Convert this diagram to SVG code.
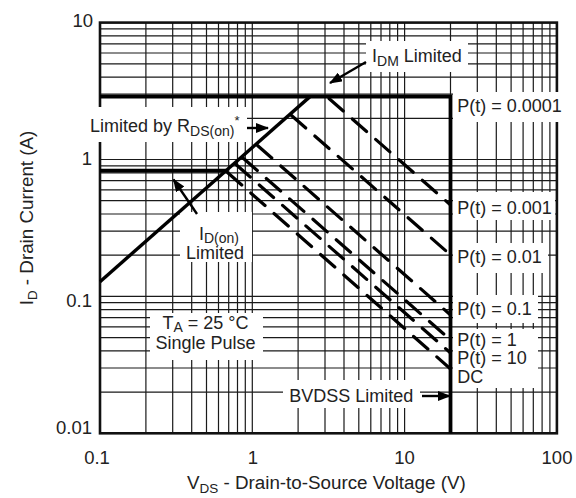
<svg xmlns="http://www.w3.org/2000/svg" width="576" height="498" viewBox="0 0 576 498">
<defs>
<style>
.grid{fill:none;stroke:#1a1a1a;stroke-width:1.2}
.border{fill:none;stroke:#111;stroke-width:2.6}
.limit{fill:none;stroke:#000;stroke-width:3.8;stroke-linecap:butt}
.rds{fill:none;stroke:#000;stroke-width:3.4}
.pulse{fill:none;stroke:#000;stroke-width:3.2;stroke-linecap:round;stroke-dasharray:19 12}
.box{fill:#fff;stroke:none}
.arrow{fill:none;stroke:#000;stroke-width:2.4;marker-end:url(#ah)}
text{font-family:"Liberation Sans",Arial,Helvetica,sans-serif;fill:#222}
.lbl{font-size:18px}
.tick{font-size:18.5px}
.ttl{font-size:18.8px}
.sub{font-size:13px}
</style>
<marker id="ah" markerUnits="userSpaceOnUse" markerWidth="13" markerHeight="10" refX="12" refY="5" orient="auto">
<path d="M0,0 L13,5 L0,10 z" fill="#000"/>
</marker>
</defs>
<rect width="576" height="498" fill="#fff"/>
<g id="grid">
<path class="grid" d="M145.9 22.6V433.3M172.7 22.6V433.3M191.7 22.6V433.3M206.5 22.6V433.3M218.5 22.6V433.3M228.7 22.6V433.3M237.5 22.6V433.3M245.3 22.6V433.3M252.3 22.6V433.3M298.1 22.6V433.3M325 22.6V433.3M344 22.6V433.3M358.8 22.6V433.3M370.8 22.6V433.3M381 22.6V433.3M389.8 22.6V433.3M397.6 22.6V433.3M404.6 22.6V433.3M450.5 22.6V433.3M477.3 22.6V433.3M496.3 22.6V433.3M511.1 22.6V433.3M523.1 22.6V433.3M533.3 22.6V433.3M542.1 22.6V433.3M549.9 22.6V433.3"/>
<path class="grid" d="M100 392.1H556.9M100 368H556.9M100 350.9H556.9M100 337.6H556.9M100 326.8H556.9M100 317.6H556.9M100 309.7H556.9M100 302.7H556.9M100 296.4H556.9M100 255.2H556.9M100 231.1H556.9M100 214H556.9M100 200.7H556.9M100 189.9H556.9M100 180.7H556.9M100 172.8H556.9M100 165.8H556.9M100 159.5H556.9M100 118.3H556.9M100 94.2H556.9M100 77.1H556.9M100 63.8H556.9M100 53H556.9M100 43.8H556.9M100 35.9H556.9M100 28.9H556.9"/>
<rect class="border" x="100" y="22.6" width="456.9" height="410.7"/>
</g>
<g id="label-boxes">
<rect class="box" x="366" y="41" width="102" height="31"/>
<rect class="box" x="85" y="107" width="162" height="35"/>
<rect class="box" x="180" y="212" width="72" height="50"/>
<rect class="box" x="150" y="313" width="113" height="47"/>
<rect class="box" x="283" y="380" width="137" height="28"/>
<rect class="box" x="453" y="92" width="110" height="30"/>
<rect class="box" x="453" y="192" width="102" height="28"/>
<rect class="box" x="453" y="243" width="95" height="30"/>
<rect class="box" x="453" y="295" width="85" height="28"/>
<rect class="box" x="453" y="329" width="85" height="59"/>
</g>
<g id="connectors">
<path id="idm-bvdss" class="limit" d="M100 96.6H450.5V433.3"/>
<path id="idon" class="limit" d="M100 170.7H226"/>
<path id="rds" class="rds" d="M100 281.7L310 96.6"/>
<path id="p0001" class="pulse" d="M329 98.5L450 204.5"/>
<path id="p001" class="pulse" d="M291.5 115.5L450 254.5"/>
<path id="p01" class="pulse" d="M257.5 145.5L450 314.5"/>
<path id="p1" class="pulse" d="M243 158L450 339.5"/>
<path id="p10" class="pulse" d="M236 164.5L450 352.5"/>
<path id="pdc" class="pulse" d="M227.5 172.5L450 368.5"/>
<path class="arrow" d="M366 62L330 83"/>
<path class="arrow" d="M247 128H268"/>
<path class="arrow" d="M197 214L173.5 179.5"/>
<path class="arrow" d="M422 396H450"/>
</g>
<g id="y-ticks" class="tick">
<text x="93" y="27" text-anchor="end">10</text>
<text x="92" y="165" text-anchor="end">1</text>
<text x="92" y="306.5" text-anchor="end">0.1</text>
<text x="92" y="433.5" text-anchor="end">0.01</text>
</g>
<g id="x-ticks" class="tick">
<text x="97" y="463.5" text-anchor="middle">0.1</text>
<text x="253" y="463.5" text-anchor="middle">1</text>
<text x="404.5" y="463.5" text-anchor="middle">10</text>
<text x="557" y="463.5" text-anchor="middle">100</text>
</g>
<g id="x-title">
<text class="ttl" x="187" y="489">V<tspan font-size="13.5" dy="4">DS</tspan><tspan dy="-4"> - Drain-to-Source Voltage (V)</tspan></text>
</g>
<g id="y-title">
<text class="ttl" transform="translate(33,218) rotate(-90)" text-anchor="middle">I<tspan font-size="13.5" dy="4">D</tspan><tspan dy="-4"> - Drain Current (A)</tspan></text>
</g>
<g id="idm-label">
<text class="lbl" x="372" y="62">I<tspan font-size="14" dy="4">DM</tspan><tspan dy="-4"> Limited</tspan></text>
</g>
<g id="rds-label">
<text class="lbl" x="90" y="131.7">Limited by R<tspan font-size="14" dy="4">DS(on)</tspan><tspan font-size="13" dy="-11">*</tspan></text>
</g>
<g id="idon-label">
<text class="lbl" x="219" y="239.5" text-anchor="middle">I<tspan font-size="14" dy="3">D(on)</tspan></text>
<text class="lbl" x="215" y="258.5" text-anchor="middle">Limited</text>
</g>
<g id="ta-label">
<text class="lbl" x="205.5" y="329" text-anchor="middle">T<tspan font-size="14" dy="3">A</tspan><tspan dy="-3"> = 25 °C</tspan></text>
<text class="lbl" x="205.5" y="348.5" text-anchor="middle">Single Pulse</text>
</g>
<g id="bvdss-label">
<text class="lbl" x="289.3" y="401.7">BVDSS Limited</text>
</g>
<g id="p-labels" class="lbl">
<text x="457.3" y="111.7">P(t) = 0.0001</text>
<text x="457.3" y="214">P(t) = 0.001</text>
<text x="457.3" y="263.3">P(t) = 0.01</text>
<text x="457.3" y="315">P(t) = 0.1</text>
<text x="457.3" y="346.3">P(t) = 1</text>
<text x="457.3" y="363.5">P(t) = 10</text>
<text x="457.3" y="383.3">DC</text>
</g>
</svg>
